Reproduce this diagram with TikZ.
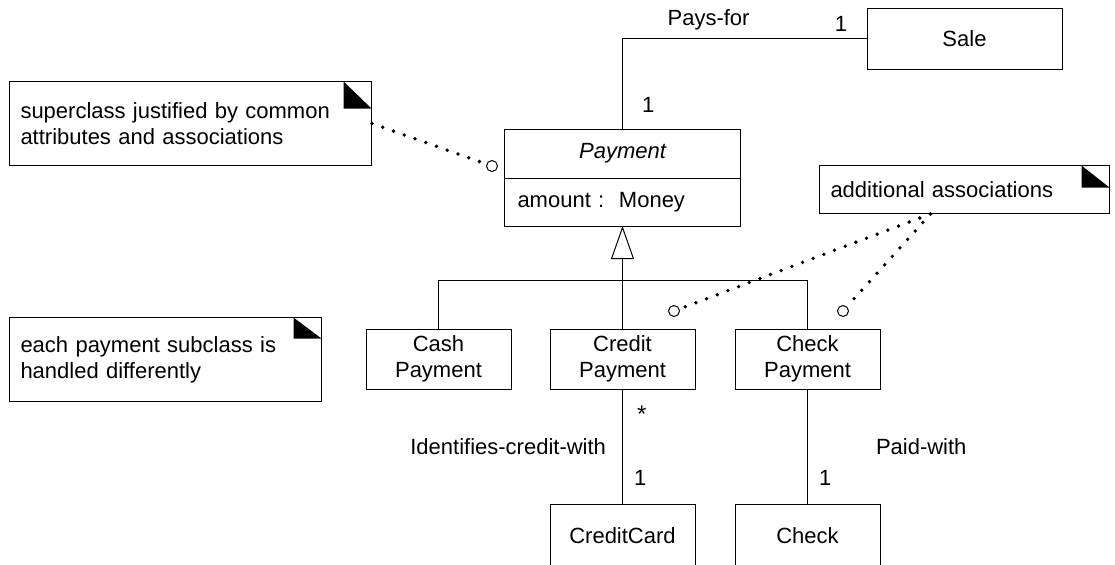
\documentclass[tikz,border=0pt]{standalone}
\usepackage{fontspec}
\setmainfont{Liberation Sans}
\usetikzlibrary{arrows.meta, positioning}

\begin{document}
\begin{tikzpicture}[x=0.5pt, y=-0.5pt, line width=0.5pt,
  font=\fontsize{11}{13}\selectfont,
  cls/.style={draw, outer sep=0pt, inner sep=0pt, align=center, minimum width=72.5pt, minimum height=30pt},
  note/.style={draw, anchor=north west, align=left, inner xsep=5.5pt, inner ysep=0pt,
    path picture={\fill ([xshift=-14pt]path picture bounding box.north east) -- ++(0,-#1) -- ++(14pt,0) -- cycle;}},
  lbl/.style={inner sep=0pt},
  pin/.style={circle, draw, fill=white, inner sep=0pt, minimum size=5.5pt},
  dots/.style={line width=1.9pt, line cap=round, dash pattern=on 0pt off 5.7pt},
  gen/.style={-{Triangle[open, length=16.5pt, width=11.5pt]}}]
\useasboundingbox (0,0) rectangle (1115,564);
\clip (0,0) rectangle (1115,564);

% classes
\node[cls, minimum width=118pt, minimum height=24.5pt] (pay) at (622.5,153.5) {\itshape Payment};
\node[cls, below=0pt of pay, text width=105pt, inner xsep=6.5pt, minimum height=24pt, align=left] (payattr) {amount :~~Money};
\node[cls, minimum width=97.5pt, minimum height=30.5pt] (sale) at (964.5,38.5) {Sale};
\node[cls, below=51.5pt of payattr] (credit) {Credit\\Payment};
\node[cls, left=19.5pt of credit] (cash) {Cash\\Payment};
\node[cls, right=20pt of credit] (checkpay) {Check\\Payment};
\node[cls, below=57.5pt of credit, minimum height=32pt] (card) {CreditCard};
\node[cls, below=57.5pt of checkpay, minimum height=32pt] (check) {Check};

% notes
\node[note=13.5pt, text width=170pt, minimum height=42pt] (supnote) at (9,81) {superclass justified by common\\attributes and associations};
\node[note=10.5pt, text width=145pt, minimum height=42pt] (subnote) at (9,317) {each payment subclass is\\handled differently};
\node[note=11pt, text width=134pt, minimum height=24pt] (addnote) at (819,165) {additional associations};

\node[pin] (pin1) at (492,166) {};
\node[pin] (pin2) at (674,311) {};
\node[pin] (pin3) at (843,311) {};
\coordinate (notefoot) at ([xshift=-17pt]addnote.south);

% associations
\draw (pay.north) |- node[lbl, pos=0.133, right=9.5pt] {1}
  node[lbl, pos=0.676, above=3.8pt] {Pays-for}
  node[lbl, pos=0.947, above=3.5pt] {1} (sale.west);
\draw (credit.south) -- node[lbl, pos=0.22, right=7pt] {\large *}
  node[lbl, midway, left=8pt] {Identifies-credit-with}
  node[lbl, pos=0.77, right=5.5pt] {1} (card.north);
\draw (checkpay.south) -- node[lbl, midway, right=34pt] {Paid-with}
  node[lbl, pos=0.77, right=5.5pt] {1} (check.north);

% generalization
\coordinate (bar) at (622.5,280);
\draw (cash.north) |- (bar) -| (checkpay.north);
\draw[gen] (credit.north) -- (payattr.south);

% note links
\draw[dots] (supnote.east) -- (pin1);
\draw[dots] (notefoot) -- (pin2);
\draw[dots] (notefoot) -- (pin3);
\end{tikzpicture}
\end{document}
